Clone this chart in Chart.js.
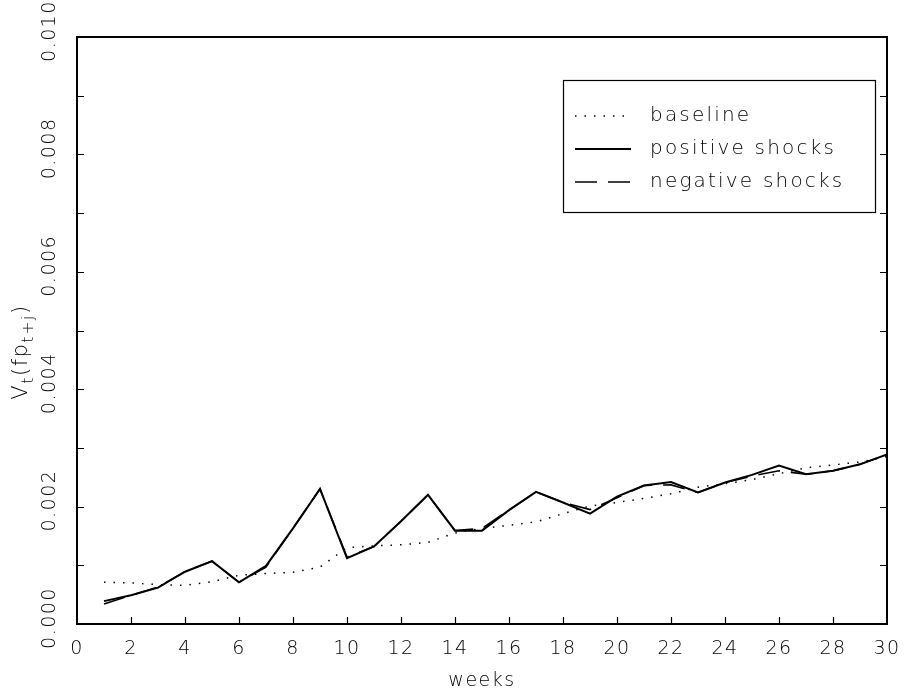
<!DOCTYPE html>
<html>
<head>
<meta charset="utf-8">
<script src="https://cdn.jsdelivr.net/npm/chart.js@4"></script>
<style>
  html, body { margin: 0; padding: 0; background: #fff; }
  #wrap { width: 907px; height: 696px; }
</style>
</head>
<body>
<div id="wrap"><canvas id="grafico"></canvas></div>
<script>
// dados (valores em unidades de 0.001)
const semanas = [1, 2, 3, 4, 5, 6, 7, 8, 9, 10, 11, 12, 13, 14, 15, 16, 17, 18, 19, 20, 21, 22, 23, 24, 25, 26, 27, 28, 29, 30];
const baseline = [0.71, 0.70, 0.67, 0.66, 0.72, 0.83, 0.86, 0.88, 0.97, 1.30, 1.33, 1.35, 1.39, 1.55, 1.63, 1.68, 1.74, 1.88, 2.01, 2.07, 2.14, 2.22, 2.33, 2.39, 2.46, 2.56, 2.66, 2.71, 2.76, 2.85];
const positivos = [0.39, 0.49, 0.62, 0.89, 1.07, 0.71, 0.99, 1.63, 2.30, 1.12, 1.32, 1.75, 2.20, 1.59, 1.59, 1.94, 2.25, 2.07, 1.88, 2.17, 2.36, 2.42, 2.24, 2.41, 2.54, 2.70, 2.55, 2.61, 2.72, 2.89];
const negativos = [0.34, 0.49, 0.63, 0.89, 1.07, 0.71, 0.97, 1.63, 2.30, 1.14, 1.32, 1.75, 2.20, 1.59, 1.63, 1.94, 2.25, 2.07, 1.95, 2.15, 2.36, 2.37, 2.24, 2.41, 2.52, 2.61, 2.55, 2.61, 2.72, 2.89];
const ticksY = [0, 0.002, 0.004, 0.006, 0.008, 0.010];
const rotulosSeries = ['baseline', 'positive shocks', 'negative shocks'];

const FONTE = '"DejaVu Sans", sans-serif';
const pontos = (vals) => semanas.map((s, i) => ({ x: s, y: vals[i] / 1000 }));

// moldura, marcas internas, rótulos do eixo y e legenda
const extras = {
  id: 'extras',
  beforeDraw(chart) {
    chart.ctx.letterSpacing = '1.5px';
  },
  afterDraw(chart) {
    const { ctx, chartArea: a, scales: { x, y } } = chart;
    ctx.save();
    ctx.strokeStyle = '#000';
    ctx.lineWidth = 2;
    ctx.strokeRect(a.left, a.top, a.right - a.left, a.bottom - a.top);

    ctx.lineWidth = 1.2;
    ctx.beginPath();
    for (let v = 0; v <= 10; v++) {
      const py = Math.round(y.getPixelForValue(v / 1000)) + 0.5;
      ctx.moveTo(a.left, py); ctx.lineTo(a.left + 7, py);
      ctx.moveTo(a.right, py); ctx.lineTo(a.right - 7, py);
    }
    for (let s = 2; s < 30; s += 2) {
      const px = Math.round(x.getPixelForValue(s)) + 0.5;
      ctx.moveTo(px, a.bottom); ctx.lineTo(px, a.bottom - 7);
    }
    ctx.stroke();

    // rótulos do eixo y, girados
    ctx.fillStyle = '#000';
    ctx.font = '300 19px ' + FONTE;
    ctx.letterSpacing = '1.5px';
    ctx.textAlign = 'center';
    ctx.textBaseline = 'middle';
    ticksY.forEach(v => {
      ctx.save();
      ctx.translate(50, y.getPixelForValue(v) - 6);
      ctx.rotate(-Math.PI / 2);
      ctx.fillText(v.toFixed(3), 0, 0);
      ctx.restore();
    });

    // título do eixo y com subscritos
    ctx.save();
    ctx.translate(20, 352);
    ctx.rotate(-Math.PI / 2);
    ctx.textAlign = 'left';
    ctx.textBaseline = 'alphabetic';
    const partes = [['V', 0, 21], ['t', 6, 16], ['(fp', 0, 21], ['t+j', 6, 16], [')', 0, 21]];
    let largura = 0;
    partes.forEach(([t, , tam]) => { ctx.font = `300 ${tam}px ${FONTE}`; largura += ctx.measureText(t).width; });
    let cx = -largura / 2;
    partes.forEach(([t, dy, tam]) => {
      ctx.font = `300 ${tam}px ${FONTE}`;
      ctx.fillText(t, cx, 7 + dy);
      cx += ctx.measureText(t).width;
    });
    ctx.restore();

    // legenda em caixa
    ctx.lineWidth = 1.2;
    ctx.strokeRect(563.5, 80.5, 312, 132);
    ctx.font = '300 20px ' + FONTE;
    ctx.letterSpacing = '2.2px';
    ctx.textAlign = 'left';
    chart.data.datasets.forEach((ds, i) => {
      const ly = 116 + i * 33;
      ctx.save();
      ctx.lineWidth = ds.borderWidth;
      ctx.setLineDash(ds.borderDash || []);
      ctx.beginPath();
      ctx.moveTo(575, ly); ctx.lineTo(631, ly);
      ctx.stroke();
      ctx.restore();
      ctx.fillText(ds.label, 650, ly);
    });
    ctx.restore();
  }
};

new Chart(document.getElementById('grafico'), {
  type: 'line',
  data: {
    datasets: [
      { label: rotulosSeries[0], data: pontos(baseline), borderColor: '#000', borderWidth: 1.5, borderDash: [1.5, 8] },
      { label: rotulosSeries[1], data: pontos(positivos), borderColor: '#000', borderWidth: 2 },
      { label: rotulosSeries[2], data: pontos(negativos), borderColor: '#000', borderWidth: 1.6, borderDash: [22, 11] },
    ],
  },
  options: {
    responsive: true,
    maintainAspectRatio: false,
    animation: false,
    layout: { padding: { top: 37, right: 20 } },
    elements: { point: { radius: 0 }, line: { tension: 0 } },
    plugins: { legend: { display: false }, tooltip: { enabled: false } },
    scales: {
      x: {
        type: 'linear', min: 0, max: 30,
        grid: { display: false }, border: { display: false },
        ticks: { stepSize: 2, color: '#000', padding: 6, maxRotation: 0, font: { family: FONTE, size: 19, weight: 300 } },
        title: { display: true, text: 'weeks', color: '#000', padding: { top: 14, bottom: 4 }, font: { family: FONTE, size: 19, weight: 300 } },
        afterFit: (escala) => { escala.height = 72; },
      },
      y: {
        min: 0, max: 0.010,
        grid: { display: false }, border: { display: false },
        ticks: { display: false, stepSize: 0.001 },
        afterFit: (escala) => { escala.width = 77; },
      },
    },
  },
  plugins: [extras],
});
</script>
</body>
</html>
